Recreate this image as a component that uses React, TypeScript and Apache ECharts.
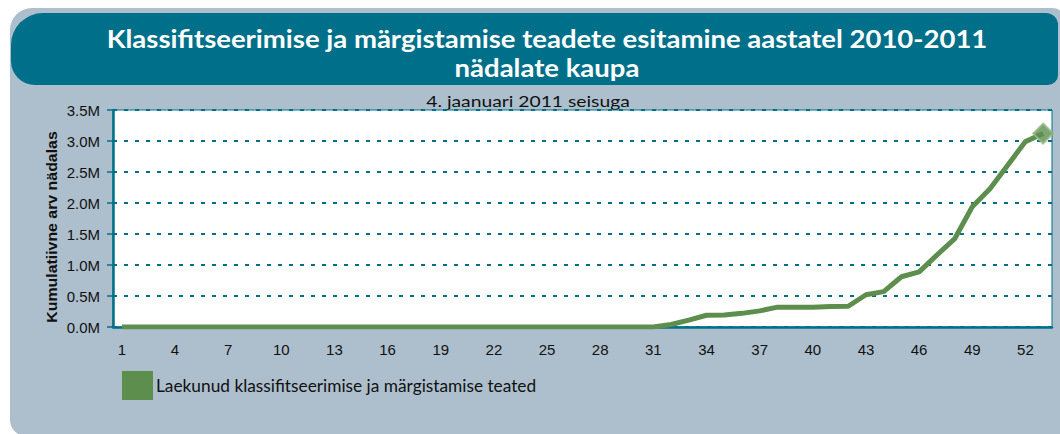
import React, { useEffect, useRef } from "react";
import * as echarts from "echarts";

const weeks: string[] = Array.from({ length: 53 }, (_, i) => String(i + 1));
const cumulative: number[] = [
  0, 0, 0, 0, 0, 0, 0, 0, 0, 0,
  0, 0, 0, 0, 0, 0, 0, 0, 0, 0,
  0, 0, 0, 0, 0, 0, 0, 0, 0, 0,
  0, 40000, 110000, 190000, 195000, 220000, 260000, 320000, 320000, 320000,
  330000, 335000, 520000, 570000, 810000, 890000, 1160000, 1420000, 1940000, 2230000,
  2610000, 2990000, 3120000,
];
const seriesName = "Laekunud klassifitseerimise ja märgistamise teated";
const titleLines = [
  "Klassifitseerimise ja märgistamise teadete esitamine aastatel 2010-2011",
  "nädalate kaupa",
];
const subtitle = "4. jaanuari 2011 seisuga";
const yAxisTitle = "Kumulatiivne arv nädalas";

const TEAL = "#00708a";
const PANEL = "#adbfcc";
const GREEN = "#5e8e4e";

export default function App() {
  const ref = useRef<HTMLDivElement>(null);
  useEffect(() => {
    if (!ref.current) return;
    const chart = echarts.init(ref.current, null, { renderer: "svg" });
    const lastIdx = cumulative.length - 1;
    const markerData = cumulative.map((v, i) => (i === lastIdx ? v : "-"));
    chart.setOption({
      animation: false,
      backgroundColor: "#ffffff",
      graphic: [
        {
          type: "rect",
          z: -10,
          silent: true,
          shape: { x: 10, y: 8, width: 1056, height: 428, r: [22, 14, 0, 16] },
          style: { fill: PANEL },
        },
        {
          type: "rect",
          z: -9,
          silent: true,
          shape: { x: 11, y: 13, width: 1047, height: 72, r: [32, 12, 10, 24] },
          style: { fill: TEAL },
        },
        {
          type: "text",
          z: 5,
          x: 547,
          y: 38,
          scaleX: 1.1,
          style: {
            text: titleLines[0],
            fill: "#ffffff",
            font: "bold 25px Lato",
            textAlign: "center",
            textVerticalAlign: "middle",
          },
        },
        {
          type: "text",
          z: 5,
          x: 547,
          y: 67,
          scaleX: 1.1,
          style: {
            text: titleLines[1],
            fill: "#ffffff",
            font: "bold 25px Lato",
            textAlign: "center",
            textVerticalAlign: "middle",
          },
        },
        {
          type: "text",
          z: -1,
          x: 528,
          y: 101,
          scaleX: 1.33,
          style: {
            text: subtitle,
            fill: "#111111",
            font: "14.5px Lato",
            textAlign: "center",
            textVerticalAlign: "middle",
          },
        },
        {
          type: "text",
          z: 5,
          x: 52,
          y: 227,
          rotation: Math.PI / 2,
          scaleX: 1.06,
          style: {
            text: yAxisTitle,
            fill: "#111111",
            font: "bold 15px 'Liberation Sans'",
            textAlign: "center",
            textVerticalAlign: "middle",
          },
        },
      ],
      legend: {
        data: [seriesName],
        left: 122,
        top: 371,
        padding: 0,
        icon: "rect",
        itemWidth: 31,
        itemHeight: 29,
        itemGap: 5,
        textStyle: { fontFamily: "Lato", fontSize: 17.3, color: "#111111", padding: [0, 0, 0, -2] },
        itemStyle: { color: GREEN },
      },
      grid: {
        left: 113,
        top: 110,
        right: 8,
        bottom: 107,
        show: true,
        backgroundColor: "#ffffff",
        borderColor: TEAL,
        borderWidth: 1,
      },
      xAxis: {
        type: "category",
        data: weeks,
        boundaryGap: true,
        axisLine: { lineStyle: { color: TEAL, width: 2.5 } },
        axisTick: { interval: 2, alignWithLabel: false, length: 4, lineStyle: { color: TEAL, width: 1.5 } },
        axisLabel: {
          interval: 2,
          margin: 15,
          color: "#111111",
          fontFamily: "Liberation Sans",
          fontSize: 15,
        },
        splitLine: { show: false },
      },
      yAxis: {
        type: "value",
        min: 0,
        max: 3500000,
        interval: 500000,
        axisLine: { show: true, lineStyle: { color: TEAL, width: 2.5 } },
        axisTick: { show: true, length: 6, lineStyle: { color: TEAL, width: 1.5 } },
        axisLabel: {
          margin: 13,
          color: "#111111",
          fontFamily: "Liberation Sans",
          fontSize: 15,
          formatter: (v: number) => (v / 1000000).toFixed(1) + "M",
        },
        splitLine: { show: true, lineStyle: { color: TEAL, width: 2, type: [4, 7] } },
      },
      series: [
        {
          name: seriesName,
          type: "line",
          data: cumulative,
          symbol: "none",
          showSymbol: false,
          lineStyle: { color: GREEN, width: 5 },
          itemStyle: { color: GREEN },
          z: 3,
        },
        {
          name: "marker",
          type: "scatter",
          data: markerData,
          symbol: "diamond",
          symbolSize: 20,
          itemStyle: { color: GREEN, borderColor: "#97bb86", borderWidth: 2 },
          z: 4,
        },
      ],
    });
    return () => chart.dispose();
  }, []);
  return (
    <div
      ref={ref}
      style={{ position: "fixed", left: 0, top: 0, width: 1060, height: 434 }}
    />
  );
}
